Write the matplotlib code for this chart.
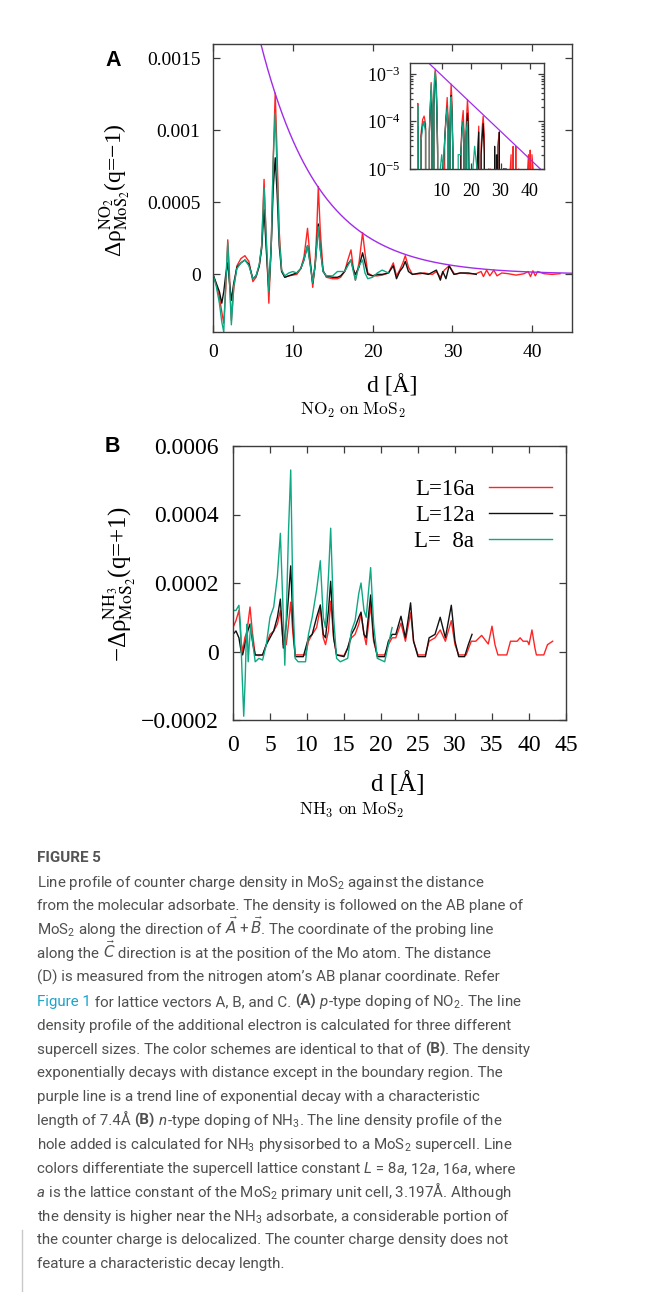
import numpy as np
import matplotlib
matplotlib.use("Agg")
import matplotlib.pyplot as plt
from matplotlib import font_manager
from matplotlib.font_manager import FontProperties
from matplotlib.lines import Line2D

# fonts: gnuplot-like Times for the plots, narrow sans for the caption
plt.rcParams['font.family'] = ['Liberation Serif', 'DejaVu Serif']
plt.rcParams['mathtext.fontset'] = 'stix'
plt.rcParams['mathtext.default'] = 'regular'
plt.rcParams['axes.unicode_minus'] = True

installed = {f.name for f in font_manager.fontManager.ttflist}
CAP_FONT = 'Liberation Sans Narrow' if 'Liberation Sans Narrow' in installed else 'Roboto'
plt.rcParams['mathtext.rm'] = CAP_FONT
plt.rcParams['mathtext.it'] = CAP_FONT + ':italic'
plt.rcParams['mathtext.bf'] = CAP_FONT + ':bold'

# ---- (A) NO2 on MoS2, q = -1 ----
# distances shared by the three supercells near the adsorbate
a_near_d = [0, 0.4, 0.8, 1.1, 1.35, 1.6, 1.85, 2.05, 2.3, 2.6, 3.0, 3.5, 4.0, 4.5, 5.0, 5.4, 5.8, 6.1,
            6.4, 6.7, 7.0, 7.3, 7.55, 7.8, 8.05, 8.3, 8.6, 9.0, 9.5, 10.0, 10.5, 11.0, 11.4, 11.85, 12.2,
            12.5, 12.8, 13.0, 13.2, 13.45, 13.8, 14.2, 15.0, 15.6, 16.0, 16.5, 16.9, 17.3, 17.55, 17.85,
            18.3, 18.75, 19.05, 19.4, 20.0, 20.6, 21.2, 22.0]
a16_near = [0.0, -0.00007, -0.00016, -0.00026, -0.00034, -0.0001, 0.00024, 0.00002, -0.00032, -0.0001,
            0.00006, 0.00011, 0.00013, 0.00009, -0.00005, -0.00002, 0.00006, 0.0002, 0.00066, 0.0002,
            -0.0002, 0.0002, 0.0008, 0.00126, 0.0008, 0.0003, 0.00003, -0.00002, -0.00001, -0.000005,
            0.0, 0.00004, 0.00012, 0.00032, 0.0001, -0.00009, 0.00008, 0.0003, 0.00061, 0.0003, 0.00003,
            -0.00002, -0.00003, -0.00003, -0.00002, 0.00002, 0.0001, 0.00017, 0.00006, -0.00004, 0.00008,
            0.00029, 0.00015, 0.00001, -0.00001, -0.00001, -0.000005, 0.00001]
a12_near = [0.0, -0.00006, -0.00012, -0.0002, -0.00012, 0.0, 0.00008, -0.00005, -0.00018, -0.00006,
            0.00005, 0.00008, 0.0001, 0.00007, -0.00003, -0.00001, 0.00006, 0.00018, 0.00045, 0.00015,
            -0.00011, 0.0002, 0.0006, 0.00081, 0.00055, 0.0002, 0.00002, -0.00002, -0.00001, 0.0,
            0.00001, 0.00004, 0.0001, 0.0002, 0.00007, -0.00006, 0.00006, 0.0002, 0.00035, 0.00018,
            0.00002, -0.00001, -0.00002, -0.00002, -0.00001, 0.00002, 0.00007, 0.0001, 0.00004, 0.0,
            0.00005, 0.00015, 0.00008, 0.0, -0.00001, 0.0, 0.0, 0.00001]
a8_near = [0.0, -0.00008, -0.0002, -0.00033, -0.0004, -0.00005, 0.00022, -0.00003, -0.00035, -0.00008,
           0.00004, 0.00008, 0.0001, 0.00006, -0.00003, -0.00001, 0.00007, 0.0002, 0.0006, 0.00022,
           -0.00012, 0.0002, 0.0008, 0.00112, 0.0007, 0.00025, 0.00003, -0.00001, 0.00001, 0.00002,
           0.00001, 0.00004, 0.0001, 0.0002, 0.00006, -0.00006, 0.00006, 0.0002, 0.00033, 0.00017,
           0.00002, -0.00001, -0.00001, 0.00002, 0.00002, 0.00002, 0.00006, 0.0001, 0.00003, -0.00004,
           0.00006, 0.0001, 0.00001, -0.00003, -0.00002, 0.00001, 0.00003, 0.00001]
# tails of the larger supercells
a16_far_d = [22.6, 23.0, 23.4, 23.8, 24.1, 24.5, 25.0, 26.0, 26.5, 27.5, 28.0, 28.5, 29.0, 29.6, 30.3,
             31.0, 32.0, 33.0, 33.6, 33.9, 34.3, 34.7, 35.2, 35.6, 36.2, 37.0, 38.0, 39.0, 39.5, 39.8,
             40.1, 40.4, 40.7, 41.5, 42.5, 43.5]
a16_far = [0.00008, -0.00001, 0.00003, 0.00008, 0.00013, 0.00005, 0.0, 0.000005, 0.00001, 0.0, 0.00002,
           -0.00002, 0.00003, 0.00006, 0.0, 0.00001, 0.000005, 0.000005, 0.00002, -0.000015, 0.00003,
           -0.00001, 0.00003, -0.00001, 0.00001, 0.000005, -0.000005, 0.000005, 0.00002, -0.000015,
           0.000025, -0.00001, 0.00002, 0.000005, 0.0, 0.000005]
a12_far_d = [22.6, 23.0, 23.4, 23.8, 24.1, 24.5, 25.0, 26.0, 27.0, 28.0, 28.5, 28.8, 29.2, 29.6, 30.2,
             31.0, 32.0, 33.0]
a12_far = [0.00006, -0.00003, 0.00002, 0.00005, 0.00009, 0.00002, 0.0, 0.00001, 0.0, 0.00003, -0.00004,
           0.00002, -0.00003, 0.00006, 0.0, 0.00001, 0.00001, 0.0]

a16_d, a16_v = a_near_d + a16_far_d, a16_near + a16_far
a12_d, a12_v = a_near_d + a12_far_d, a12_near + a12_far
a8_d, a8_v = a_near_d, a8_near

# purple trend line: exponential decay, characteristic length 7.4 A
fit_amp = 0.0036
fit_len = 7.4

xa_ticks = [0, 10, 20, 30, 40]
ya_ticks = [0, 0.0005, 0.001, 0.0015]
ya_labels = ['0', '0.0005', '0.001', '0.0015']
inset_xticks = [10, 20, 30, 40]

# ---- (B) NH3 on MoS2, q = +1 ----
b16_d = [0, 0.4, 0.8, 1.1, 1.3, 1.6, 1.9, 2.3, 2.6, 3.0, 3.5, 4.0, 4.5, 5.0, 5.5, 6.0, 6.4, 6.8, 7.2,
         7.5, 7.8, 8.1, 8.4, 9.0, 9.8, 10.2, 10.7, 11.3, 11.8, 12.2, 12.5, 12.9, 13.2, 13.6, 14.0, 15.0,
         15.5, 16.0, 16.5, 17.0, 17.3, 17.7, 18.0, 18.6, 19.0, 19.5, 20.5, 21.0, 21.5, 22.0, 22.7, 23.3,
         24.0, 24.4, 25.0, 26.0, 26.5, 27.3, 28.0, 28.7, 29.5, 30.0, 30.5, 31.5, 32.2, 32.8, 33.6, 34.2,
         34.5, 35.0, 35.4, 35.8, 37.0, 37.5, 38.4, 38.8, 39.2, 39.8, 40.0, 40.4, 40.8, 41.0, 42.0, 42.5,
         43.2]
b16_v = [0.00007, 0.00009, 0.00012, 0.00003, 0.0, 0.00004, 0.00006, 0.00013, 0.00006, -0.00001,
         -0.000012, -0.00001, 0.00002, 0.00005, 0.00006, 0.00008, 0.00012, 0.00002, 0.00002, 0.00008,
         0.000144, 0.00005, -0.00001, -0.00001, -0.00001, 0.00003, 0.00005, 0.00007, 0.000128, 0.00004,
         0.00002, 0.00006, 0.000147, 0.00004, -0.00001, -0.000012, 0.00001, 0.00004, 0.00005, 0.00008,
         0.00011, 0.00005, 0.00002, 0.000137, 0.00003, -0.00001, -0.00001, 0.00002, 0.00004, 0.00004,
         0.000083, 0.00003, 0.000113, 0.00003, -0.00001, -0.00001, 0.00003, 0.00004, 0.000063, 0.00003,
         0.00009, 0.00002, -0.00001, -0.00001, 0.00003, 0.00003, 0.000047, 0.00003, 0.000022, 0.000074,
         0.00002, -0.00001, -0.00001, 0.00003, 0.00003, 0.00004, 0.00003, 0.00003, 0.00002, 0.000063,
         0.00001, -0.00001, -0.00001, 0.00002, 0.00003]
b12_d = [0, 0.4, 0.8, 1.1, 1.3, 1.7, 2.0, 2.3, 2.7, 3.0, 3.5, 4.0, 4.5, 5.0, 5.5, 6.0, 6.4, 6.8, 7.2,
         7.5, 7.8, 8.1, 8.4, 9.5, 10.2, 10.7, 11.3, 11.8, 12.2, 12.5, 12.9, 13.2, 13.6, 14.0, 15.0, 15.5,
         16.0, 16.5, 17.0, 17.3, 17.7, 18.0, 18.6, 19.0, 19.5, 20.5, 21.0, 21.5, 22.0, 22.7, 23.3, 24.0,
         24.4, 25.0, 26.0, 26.5, 27.3, 28.0, 28.7, 29.5, 30.0, 30.5, 31.3, 31.8, 32.3]
b12_v = [0.00005, 0.00006, 0.00004, 0.0, -0.00001, 0.00003, 0.00006, 0.00008, 0.00002, -0.00001,
         -0.00001, -0.00001, 0.00002, 0.00004, 0.00006, 0.0001, 0.000153, 0.00001, 0.00008, 0.00016,
         0.00025, 0.00008, -0.000015, -0.000015, 0.00004, 0.00005, 0.0001, 0.000136, 0.00005, 0.00004,
         0.00012, 0.000205, 0.00004, -0.00001, -0.000015, 0.00001, 0.00005, 0.00007, 0.0001, 0.000115,
         0.00005, 0.00004, 0.000165, 0.00004, -0.000015, -0.000015, 0.00003, 0.00005, 0.00005, 0.000103,
         0.00004, 0.000142, 0.00003, -0.000015, -0.000015, 0.00004, 0.00005, 0.0001, 0.00004, 0.000135,
         0.00003, -0.000015, -0.000015, 0.00002, 0.00005]
b8_d = [0, 0.4, 0.8, 1.0, 1.2, 1.45, 1.65, 1.8, 1.9, 2.05, 2.2, 2.4, 2.7, 3.0, 3.5, 4.0, 4.5, 5.0, 5.5,
        6.0, 6.4, 6.8, 7.0, 7.2, 7.5, 7.8, 8.1, 8.4, 8.8, 9.8, 10.2, 10.7, 11.3, 11.8, 12.2, 12.5, 12.9,
        13.2, 13.6, 14.0, 14.5, 15.5, 16.0, 16.5, 17.0, 17.3, 17.7, 18.0, 18.6, 19.0, 19.5, 20.5, 21.0,
        21.5]
b8_v = [0.00012, 0.00012, 0.000135, 0.00008, -0.00005, -0.000189, -0.00008, 0.00004, 0.00008, -0.00003,
        0.00002, 0.00008, 0.00002, -0.00003, -0.00002, -0.000025, 0.00002, 0.0001, 0.00013, 0.00022,
        0.000345, 0.0001, -0.00004, 0.0001, 0.00035, 0.00053, 0.00015, -0.00002, -0.00003, -0.00003,
        0.00005, 0.0001, 0.00018, 0.000265, 0.0001, 0.00007, 0.00022, 0.00036, 0.0001, -0.00002,
        -0.00003, -0.00002, 0.00006, 0.00009, 0.00017, 0.0002, 0.00012, 0.0001, 0.000245, 0.00008,
        -0.00002, -0.00003, 0.00002, 0.00007]

xb_ticks = [0, 5, 10, 15, 20, 25, 30, 35, 40, 45]
yb_ticks = [-0.0002, 0, 0.0002, 0.0004, 0.0006]
yb_labels = ['\u22120.0002', '0', '0.0002', '0.0004', '0.0006']
series_labels = ['L=16a', 'L=12a', 'L=  8a']

c16, c12, c8 = '#ff2424', '#111111', '#0fa884'
c_fit = '#a22bea'
edge = '#3c3c3c'

W, H = 665, 1292
fig = plt.figure(figsize=(W / 100, H / 100), dpi=100)


def box(l, t, r, b):
    # pixel box (from top-left) -> figure rect
    return [l / W, 1 - b / H, (r - l) / W, (b - t) / H]


def style(ax, size, padx, pady, length=5):
    for s in ax.spines.values():
        s.set_color(edge)
        s.set_linewidth(1.0)
    ax.tick_params(which='both', direction='in', top=True, right=True, color=edge, width=0.9,
                   labelsize=size)
    ax.tick_params(which='major', length=length)
    ax.tick_params(which='minor', length=length * 0.5)
    ax.tick_params(axis='x', pad=padx)
    ax.tick_params(axis='y', pad=pady)


# ---------------- panel A ----------------
axA = fig.add_axes(box(213, 44, 572, 332))
axA.plot(a16_d, a16_v, color=c16, lw=1.0)
axA.plot(a12_d, a12_v, color=c12, lw=1.0)
axA.plot(a8_d, a8_v, color=c8, lw=1.0)
fit_d = np.linspace(0, 45, 400)
fit_v = fit_amp * np.exp(-fit_d / fit_len)
axA.plot(fit_d, fit_v, color=c_fit, lw=1.0)
axA.set_xlim(0, 45)
axA.set_ylim(-0.0004, 0.0016)
axA.set_xticks(xa_ticks)
axA.set_yticks(ya_ticks, ya_labels)
style(axA, 14, 8.5, 9)
axA.set_xlabel('d [Å]', fontsize=17)
axA.xaxis.set_label_coords(0.5, -0.15)
axA.set_ylabel(r'Δρ$^{\mathrm{NO_2}}_{\mathrm{MoS_2}}$(q=−1)', fontsize=17)
axA.yaxis.set_label_coords(-0.222, 0.493)

# inset, log scale
axI = fig.add_axes(box(410, 63, 544, 169))
axI.plot(a16_d, a16_v, color=c16, lw=0.9)
axI.plot(a12_d, a12_v, color=c12, lw=0.9)
axI.plot(a8_d, a8_v, color=c8, lw=0.9)
axI.plot(fit_d, fit_v, color=c_fit, lw=0.9)
axI.set_yscale('log')
axI.set_xlim(-0.8, 44.8)
axI.set_ylim(1e-5, 1.7e-3)
axI.set_xticks(inset_xticks)
style(axI, 13, 10, 7, length=4)

fig.text(353 / W, 1 - 410.5 / H, r'$\mathrm{NO_2\ on\ MoS_2}$', math_fontfamily='cm',
         fontsize=12.5, ha='center', va='center')
fig.text(105 / W, 1 - 66 / H, 'A', family='Liberation Sans', weight='bold', fontsize=15.5,
         va='baseline')

# ---------------- panel B ----------------
axB = fig.add_axes(box(233, 446, 566, 720))
lines_b = []
for d, v, c, lab in [(b16_d, b16_v, c16, series_labels[0]),
                     (b12_d, b12_v, c12, series_labels[1]),
                     (b8_d, b8_v, c8, series_labels[2])]:
    lines_b += axB.plot(d, v, color=c, lw=1.0, label=lab)
axB.set_xlim(0, 45)
axB.set_ylim(-0.0002, 0.0006)
axB.set_xticks(xb_ticks)
axB.set_yticks(yb_ticks, yb_labels)
style(axB, 17, 10.5, 10.5)
axB.set_xlabel('d [Å]', fontsize=18)
axB.xaxis.set_label_coords(0.495, -0.185)
axB.set_ylabel(r'−Δρ$^{\mathrm{NH_3}}_{\mathrm{MoS_2}}$(q=+1)', fontsize=18)
axB.yaxis.set_label_coords(-0.285, 0.496)
axB.legend(handles=lines_b, loc='upper right', bbox_to_anchor=(0.959, 0.878), frameon=False,
           markerfirst=False, prop={'size': 16.5}, handlelength=2.75, handletextpad=0.65,
           labelspacing=0.2, borderpad=0, borderaxespad=0)

fig.text(352 / W, 1 - 810 / H, r'$\mathrm{NH_3\ on\ MoS_2}$', math_fontfamily='cm',
         fontsize=12.5, ha='center', va='center')
fig.text(105 / W, 1 - 452 / H, 'B', family='Liberation Sans', weight='bold', fontsize=15.5,
         va='baseline')

# ---------------- caption ----------------
N, Bd, It, Lk, V = 'n', 'b', 'i', 'k', 'v'
caption = [
    [("Line profile of counter charge density in MoS$_2$ against the distance", N)],
    [("from the molecular adsorbate. The density is followed on the AB plane of", N)],
    [("MoS$_2$ along the direction of ", N), (r"$\vec{\mathit{A}}+\vec{\mathit{B}}$", V),
     (". The coordinate of the probing line", N)],
    [("along the ", N), (r"$\vec{\mathit{C}}$", V),
     (" direction is at the position of the Mo atom. The distance", N)],
    [("(D) is measured from the nitrogen atom’s AB planar coordinate. Refer", N)],
    [("Figure 1", Lk), (" for lattice vectors A, B, and C. ", N), ("(A)", Bd), (" ", N), ("p", It),
     ("-type doping of NO$_2$. The line", N)],
    [("density profile of the additional electron is calculated for three different", N)],
    [("supercell sizes. The color schemes are identical to that of ", N), ("(B)", Bd), (". The density", N)],
    [("exponentially decays with distance except in the boundary region. The", N)],
    [("purple line is a trend line of exponential decay with a characteristic", N)],
    [("length of 7.4Å ", N), ("(B)", Bd), (" ", N), ("n", It),
     ("-type doping of NH$_3$. The line density profile of the", N)],
    [("hole added is calculated for NH$_3$ physisorbed to a MoS$_2$ supercell. Line", N)],
    [("colors differentiate the supercell lattice constant ", N), ("L", It), (" = 8", N), ("a", It),
     (", 12", N), ("a", It), (", 16", N), ("a", It), (", where", N)],
    [("a", It), (" is the lattice constant of the MoS$_2$ primary unit cell, 3.197Å. Although", N)],
    [("the density is higher near the NH$_3$ adsorbate, a considerable portion of", N)],
    [("the counter charge is delocalized. The counter charge density does not", N)],
    [("feature a characteristic decay length.", N)],
]

renderer = fig.canvas.get_renderer()
txt_col = '#505050'
link_col = '#1aa4cc'


def fprops(kind, size):
    if kind == Bd:
        return FontProperties(family=CAP_FONT, size=size, weight='bold', math_fontfamily='custom')
    if kind == It:
        return FontProperties(family=CAP_FONT, size=size, style='italic', math_fontfamily='custom')
    if kind == V:
        return FontProperties(family=CAP_FONT, size=size, math_fontfamily='dejavusans')
    return FontProperties(family=CAP_FONT, size=size, math_fontfamily='custom')


def run_width(s, fp):
    ism = '$' in s
    w1 = renderer.get_text_width_height_descent('|' + s + '|', fp, ismath=ism)[0]
    w0 = renderer.get_text_width_height_descent('||', fp, ismath=False)[0]
    return w1 - w0


# size the caption so the longest line spans the same width as in the figure
ref_line = caption[1][0][0]
cap_size = 10 * 488 / run_width(ref_line, fprops(N, 10))

x0 = 37
y_first = 886.5
line_step = 23.86
fig.text(x0 / W, 1 - 861.5 / H, 'FIGURE 5', fontproperties=fprops(Bd, cap_size), color='#555555',
         va='baseline')
for i, runs in enumerate(caption):
    x = x0
    y = 1 - (y_first + i * line_step) / H
    for s, kind in runs:
        fp = fprops(kind, cap_size)
        fig.text(x / W, y, s, fontproperties=fp, color=link_col if kind == Lk else txt_col,
                 va='baseline')
        x += run_width(s, fp)

# thin page rule at the bottom-left
fig.add_artist(Line2D([22 / W, 22 / W], [0, 1 - 1230 / H], color='#c8c8c8', lw=1.0))

fig.savefig('out.png', dpi=100)
